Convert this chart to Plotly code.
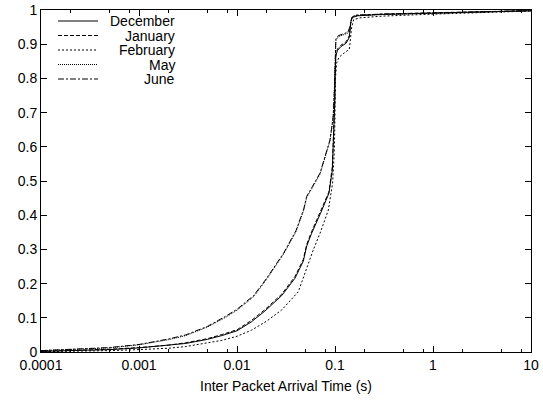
import plotly.graph_objects as go

# ---- data ----
x_dec = [0.0001, 0.0002, 0.0005, 0.001, 0.002, 0.003, 0.005, 0.007, 0.01, 0.014, 0.0193, 0.0286,
         0.0389, 0.0474, 0.0515, 0.0577, 0.0713, 0.0867, 0.0938, 0.097, 0.0995, 0.1, 0.102, 0.106,
         0.115, 0.13, 0.14, 0.145, 0.15, 0.17, 0.3, 1, 3, 10]
y_dec = [0.002, 0.004, 0.007, 0.012, 0.019, 0.025, 0.037, 0.048, 0.062, 0.088, 0.12, 0.165,
         0.215, 0.265, 0.31, 0.347, 0.406, 0.464, 0.53, 0.62, 0.73, 0.80, 0.865, 0.882,
         0.893, 0.903, 0.92, 0.965, 0.978, 0.983, 0.987, 0.991, 0.994, 0.998]

x_jan = [0.0001, 0.0002, 0.0005, 0.001, 0.002, 0.003, 0.005, 0.007, 0.01, 0.014, 0.0193, 0.0286,
         0.0389, 0.0474, 0.0515, 0.0577, 0.0713, 0.0867, 0.0938, 0.097, 0.0995, 0.1, 0.102, 0.106,
         0.115, 0.13, 0.14, 0.145, 0.15, 0.17, 0.3, 1, 3, 10]
y_jan = [0.002, 0.004, 0.008, 0.013, 0.020, 0.027, 0.039, 0.051, 0.065, 0.092, 0.124, 0.169,
         0.22, 0.27, 0.315, 0.352, 0.41, 0.468, 0.54, 0.63, 0.74, 0.81, 0.87, 0.886,
         0.897, 0.907, 0.925, 0.967, 0.979, 0.984, 0.988, 0.992, 0.995, 0.998]

x_feb = [0.0001, 0.0002, 0.0005, 0.001, 0.002, 0.003, 0.005, 0.007, 0.01, 0.0141, 0.02, 0.0286,
         0.0422, 0.048, 0.0553, 0.0599, 0.0703, 0.0855, 0.0945, 0.0985, 0.0998, 0.101, 0.104, 0.11,
         0.125, 0.14, 0.148, 0.155, 0.18, 0.3, 1, 3, 10]
y_feb = [0.001, 0.002, 0.004, 0.007, 0.011, 0.016, 0.026, 0.034, 0.046, 0.064, 0.09, 0.123,
         0.176, 0.22, 0.272, 0.298, 0.347, 0.415, 0.493, 0.59, 0.68, 0.80, 0.845, 0.862,
         0.875, 0.885, 0.95, 0.972, 0.977, 0.982, 0.988, 0.993, 0.997]

x_may = [0.0001, 0.0002, 0.0005, 0.001, 0.002, 0.003, 0.005, 0.0075, 0.01, 0.0148, 0.02, 0.03,
         0.04, 0.048, 0.0514, 0.0586, 0.0703, 0.0889, 0.0958, 0.099, 0.1, 0.102, 0.108, 0.12,
         0.135, 0.142, 0.148, 0.16, 0.3, 1, 3, 10]
y_may = [0.004, 0.007, 0.012, 0.021, 0.036, 0.048, 0.073, 0.1, 0.122, 0.162, 0.212, 0.287,
         0.352, 0.415, 0.452, 0.48, 0.52, 0.617, 0.685, 0.78, 0.875, 0.91, 0.922, 0.927,
         0.932, 0.948, 0.976, 0.984, 0.987, 0.990, 0.994, 0.998]

x_jun = [0.0001, 0.0002, 0.0005, 0.001, 0.002, 0.003, 0.005, 0.0075, 0.01, 0.0148, 0.02, 0.03,
         0.04, 0.048, 0.0514, 0.0586, 0.0703, 0.0889, 0.0958, 0.099, 0.1, 0.102, 0.108, 0.12,
         0.135, 0.142, 0.148, 0.16, 0.3, 1, 3, 10]
y_jun = [0.004, 0.007, 0.013, 0.022, 0.038, 0.05, 0.075, 0.103, 0.125, 0.165, 0.215, 0.29,
         0.355, 0.418, 0.455, 0.483, 0.523, 0.62, 0.688, 0.78, 0.88, 0.915, 0.925, 0.93,
         0.935, 0.95, 0.978, 0.985, 0.988, 0.991, 0.994, 0.998]

series_names = ["December", "January", "February", "May", "June"]
x_tick_vals = [0.0001, 0.001, 0.01, 0.1, 1, 10]
x_tick_text = ["0.0001", "0.001", "0.01", "0.1", "1", "10"]
y_tick_vals = [0, 0.1, 0.2, 0.3, 0.4, 0.5, 0.6, 0.7, 0.8, 0.9, 1]
y_tick_text = ["0", "0.1", "0.2", "0.3", "0.4", "0.5", "0.6", "0.7", "0.8", "0.9", "1"]
x_title = "Inter Packet Arrival Time (s)"

# ---- styles ----
dashes = ["solid", "4px,2px", "2px,2px", "1px,1px", "6px,2px,2px,2px"]
FONT = "Liberation Sans, Arial, Helvetica, sans-serif"

xs = [x_dec, x_jan, x_feb, x_may, x_jun]
ys = [y_dec, y_jan, y_feb, y_may, y_jun]

fig = go.Figure()
for name, xv, yv, d in zip(series_names, xs, ys, dashes):
    fig.add_trace(go.Scatter(x=xv, y=yv, mode="lines", name=name, showlegend=False,
                             line=dict(color="black", width=1, dash=d)))

# manual gnuplot-style legend (right-aligned labels, samples on the left)
W, H = 490.0, 342.0
left_px, top_px = 41, 10
row_y_px = [21, 35.5, 50, 64.5, 79]
for name, d, ry in zip(series_names, dashes, row_y_px):
    yp = 1 - (ry - top_px) / H
    fig.add_shape(type="line", xref="paper", yref="paper",
                  x0=(58 - left_px) / W, x1=(98 - left_px) / W, y0=yp, y1=yp,
                  line=dict(color="black", width=1, dash=d))
    fig.add_annotation(xref="paper", yref="paper", x=(176 - left_px) / W, y=yp,
                       text=name, showarrow=False, xanchor="right", yanchor="middle",
                       borderpad=0, font=dict(family=FONT, size=14, color="black"))

minor_vals = []
for e in range(-4, 1):
    for m in (2, 5, 8):
        minor_vals.append(m * 10 ** e)

fig.update_layout(
    width=543, height=400,
    margin=dict(l=41, r=12, t=10, b=48, autoexpand=False),
    paper_bgcolor="white", plot_bgcolor="white",
    font=dict(family=FONT, size=14, color="black"),
    showlegend=False,
)
fig.update_xaxes(
    type="log", range=[-4, 1], automargin=False,
    tickmode="array", tickvals=x_tick_vals, ticktext=x_tick_text,
    ticks="inside", ticklen=6, tickwidth=1, tickcolor="black",
    minor=dict(tickmode="array", tickvals=minor_vals, ticks="inside", ticklen=3,
               tickcolor="black", showgrid=False),
    showline=True, linecolor="black", linewidth=1, mirror="allticks",
    showgrid=False, zeroline=False,
    title=dict(text=x_title, font=dict(size=14), standoff=9),
    tickfont=dict(size=14),
)
fig.update_yaxes(
    range=[0, 1], automargin=False,
    tickmode="array", tickvals=y_tick_vals, ticktext=y_tick_text,
    ticks="inside", ticklen=6, tickwidth=1, tickcolor="black",
    showline=True, linecolor="black", linewidth=1, mirror="allticks",
    showgrid=False, zeroline=False,
    tickfont=dict(size=14),
)

fig.write_html("out.html")
